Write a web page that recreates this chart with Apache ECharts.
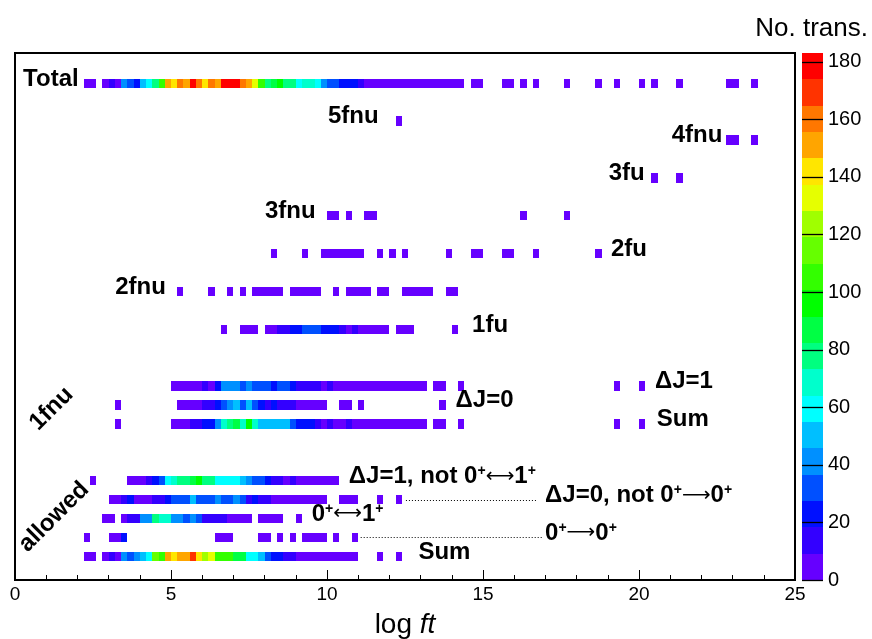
<!DOCTYPE html>
<html><head><meta charset="utf-8">
<script src="https://cdn.jsdelivr.net/npm/echarts/dist/echarts.min.js"></script>
<style>html,body{margin:0;padding:0;background:#fff}#c{width:872px;height:639px}</style>
</head><body><div id="c"></div>
<script>
// ---------------- DATA ----------------
const zMax = 183;            // top of colour scale
const binWidth = 0.2;        // log ft bin width
const palette = ['#6600ff','#3300ff','#0010ff','#0050ff','#0090ff','#00bfff','#00ffff','#00ffcc','#00ff80','#00ff44',
                 '#00ff00','#33ff00','#66ff00','#a0ff00','#e6ff00','#ffe600','#ffa500','#ff7700','#ff3300','#ff0000'];
const xTickValues = [0, 5, 10, 15, 20, 25];
const zTickValues = [0, 20, 40, 60, 80, 100, 120, 140, 160, 180];

// y-bin of every row (bottom to top)
const rowKeys = ['allowedSum','allowed00','allowed01','allowedDJ0','allowedDJ1','fnu1Sum','fnu1DJ0','fnu1DJ1','fu1','fnu2','fu2','fnu3','fu3','fnu4','fnu5','total'];
const rowBins = [2, 4, 6, 8, 10, 16, 18, 20, 26, 30, 34, 38, 42, 46, 48, 52];

// counts per row: segments [first log ft bin, [counts...]] (0 = empty bin)
const total = [
  [2.2, [4,4,0,4,14,4,41,32,23,50,59,78,105,151,142,160,151,178,160,142,160,151,178,178,178,160,151,133,105,78,87,96,78,78,59,69,69,59,41,32,32,23,23,23,14,
         4,4,4,4,4,4,4,4,4,4,4,4,4,4,4,4,0,4,4,0,0,0,4,4,0,4,0,4]],
  [17.6,[4]],[18.6,[4]],[19.2,[4]],[20.0,[4]],[20.4,[4]],[21.2,[4]],[22.8,[4,4]],[23.6,[4]]
];
const fnu5 = [[12.2,[4]]];
const fnu4 = [[22.8,[4,4]],[23.6,[4]]];
const fu3  = [[20.4,[4]],[21.2,[4]]];
const fnu3 = [[10.0,[4,4,0,4,0,0,4,4]],[16.2,[4]],[17.6,[4]]];
const fu2  = [[8.2,[4]],[9.2,[4]],[9.8,[4,4,4,4,4,4,4]],[11.6,[4,0,4,0,4]],[13.8,[4]],[14.6,[4,4]],[15.6,[4,4]],[16.6,[4]],[18.6,[4]]];
const fnu2 = [[5.2,[4]],[6.2,[4]],[6.8,[4,0,4]],[7.6,[4,4,4,4,4,0,4,4,4,4,4]],[10.2,[4,0,4,4,4,4,0,4,4]],[12.4,[4,4,4,4,4]],[13.8,[4,4]]];
const fu1  = [[6.6,[4]],[7.2,[4,4,4,0,4,4,14,14,23,23,32,32,32,23,23,23,14,4,14,4,4,4,4,4,0,4,4,4]],[14.0,[4]]];
const fnu1DJ1 = [[5.0,[4,4,4,4,4,14,4,23,41,41,41,32,41,32,32,32,23,32,32,23,14,14,14,14,4,14,
                       4,4,4,4,4,4,4,4,4,4,4,4,4,4,4,0,4,4]],[14.2,[4]],[19.2,[4]],[20.0,[4]]];
const fnu1DJ0 = [[3.2,[4]],[5.2,[4,4,4,4,14,14,23,32,41,50,32,50,32,23,14,23,14,14,14,4,4,4,4,4]],[10.4,[4,4,0,4]],[13.6,[4]]];
const fnu1Sum = [[3.2,[4]],[5.0,[4,4,4,14,14,23,23,41,69,78,87,69,96,69,50,50,50,50,50,32,23,23,23,14,4,14,4,4,14,
                       4,4,4,4,4,4,4,4,4,4,4,4,0,4,4]],[14.2,[4]],[19.2,[4]],[20.0,[4]]];
const allowedDJ1 = [[2.4,[4]],[3.6,[4,4,4,14,23,32,59,69,78,78,87,96,78,78,59,59,59,59,50,41,32,32,23,14,14,4,14,4,4,4,4,4,4,4]]];
const allowedDJ0 = [[3.0,[4,4,14,23,4,4,4,14,14,23,32,32,32,50,32,32,32,41,32,32,41,32,14,23,14,14,4,4,4,4,4,4,4,4,4]],[10.4,[4,4,4]],[11.6,[4]],[12.2,[4]]];
const allowed01 = [[2.8,[4,4,0,4,14,14,41,41,78,69,69,41,41,32,41,32,14,14,14,14,4,4,4,4,0,4,4,4,4]],[9.0,[4]]];
const allowed00 = [[2.2,[4]],[3.0,[4,4,23]],[6.4,[4,4,4]],[7.8,[4,4,0,4,0,4,0,4,4,4,4,0,4,0,0,4]]];
const allowedSum = [[2.2,[4,4,0,4,14,4,41,32,41,50,59,114,105,151,142,151,151,169,142,124,133,105,105,105,87,87,59,59,50,32,23,23,14,14,
                         4,4,4,4,4,4,4,4,4,4]],[11.6,[4]],[12.2,[4]]];

// annotations
const labelTexts = ['Total','5fnu','4fnu','3fu','3fnu','2fu','2fnu','1fu','ΔJ=1','ΔJ=0','Sum',
  '{b|ΔJ=1, not 0}{s|+}{a|⟷}{b|1}{s|+}','{b|ΔJ=0, not 0}{s|+}{a|⟶}{b|0}{s|+}','{b|0}{s|+}{a|⟷}{b|1}{s|+}','{b|0}{s|+}{a|⟶}{b|0}{s|+}','Sum'];
const labelLogft = [0.26,10.03,21.05,19.03,8.01,19.1,3.21,14.65,20.51,14.12,20.57,10.7,16.99,9.51,16.99,12.93];
const labelRow   = ['total','fnu5','fnu4','fu3','fnu3','fu2','fnu2','fu1','fnu1DJ1','fnu1DJ0','fnu1Sum','allowedDJ1','allowedDJ0','allowed01','allowed00','allowedSum'];
const groupTexts = ['1fnu','allowed'];
const groupLogft = [1.17, 1.25];
const groupBin = [18.1, 6.66];
const leaderRows = ['allowedDJ0','allowed00'];
const leaderFrom = [12.53, 11.08];
const leaderTo = [16.72, 16.89];

// ---------------- BUILD ----------------
const rowData = {total, fnu5, fnu4, fu3, fnu3, fu2, fnu2, fu1, fnu1DJ1, fnu1DJ0, fnu1Sum, allowedDJ1, allowedDJ0, allowed01, allowed00, allowedSum};
const cells = [];
rowKeys.forEach((k, r) => {
  rowData[k].forEach(([start, counts]) => {
    counts.forEach((c, i) => {
      if (c > 0) cells.push([Math.round((start + i * binWidth) * 10) / 10, rowBins[r], c]);
    });
  });
});
const step = zMax / palette.length;
const pieces = palette.map((c, k) => ({gte: k * step, lt: (k + 1) * step, color: c}));
pieces[pieces.length - 1].lte = zMax * 2; delete pieces[pieces.length - 1].lt;
const barData = palette.map((c, k) => [k * step, (k + 1) * step, k]);

const FONT = 'Liberation Sans, Arial, Helvetica, sans-serif';
const chart = echarts.init(document.getElementById('c'), null, {renderer: 'canvas'});

chart.setOption({
  animation: false,
  backgroundColor: '#fff',
  grid: [
    {left: 15, top: 53, width: 780, height: 527, show: true, borderColor: '#000', borderWidth: 2, backgroundColor: 'transparent',
     containLabel: false, outerBoundsMode: 'none'},
    {left: 802, top: 53, width: 21, height: 527, containLabel: false, outerBoundsMode: 'none'}
  ],
  xAxis: [
    {gridIndex: 0, type: 'value', min: 0, max: 25, interval: 5,
     axisLine: {lineStyle: {color: '#000', width: 2}},
     axisTick: {inside: true, length: 10, lineStyle: {color: '#000', width: 1}},
     minorTick: {show: true, splitNumber: 5, length: 5, lineStyle: {color: '#000', width: 1}},
     splitLine: {show: false},
     axisLabel: {fontSize: 19, color: '#000', fontFamily: FONT, margin: 5, showMinLabel: true, showMaxLabel: true},
     name: '{n|log }{i|ft}', nameLocation: 'middle', nameGap: 31,
     nameTextStyle: {rich: {n: {fontSize: 28, fontFamily: FONT, color: '#000'}, i: {fontSize: 28, fontFamily: FONT, fontStyle: 'italic', color: '#000'}}}},
    {gridIndex: 1, type: 'value', min: 0, max: 1, show: false}
  ],
  yAxis: [
    {gridIndex: 0, type: 'value', min: 0, max: 55.7, show: false},
    {gridIndex: 1, type: 'value', position: 'right', min: 0, max: zMax,
     axisLine: {show: false},
     axisTick: {show: false},
     axisLabel: {fontSize: 20, color: '#000', fontFamily: FONT, margin: 5, customValues: zTickValues},
     splitLine: {show: false}}
  ],
  visualMap: {type: 'piecewise', show: false, seriesIndex: 0, dimension: 2, pieces: pieces},
  series: [
    {type: 'custom', xAxisIndex: 0, yAxisIndex: 0, data: cells, encode: {x: 0, y: 1},
     renderItem: function (params, api) {
       const x = api.value(0), y = api.value(1);
       const a = api.coord([x, y + 1]), b = api.coord([x + binWidth, y]);
       const x0 = Math.round(a[0]), y0 = Math.round(a[1]), x1 = Math.round(b[0]), y1 = Math.round(b[1]);
       return {type: 'rect', shape: {x: x0, y: y0, width: x1 - x0, height: y1 - y0}, style: {fill: api.visual('color')}};
     }},
    {type: 'custom', xAxisIndex: 1, yAxisIndex: 1, data: barData, z: 2,
     renderItem: function (params, api) {
       const a = api.coord([0, api.value(1)]), b = api.coord([1, api.value(0)]);
       return {type: 'rect', shape: {x: a[0], y: Math.round(a[1]), width: b[0] - a[0], height: Math.round(b[1]) - Math.round(a[1])},
               style: {fill: palette[api.value(2)]}};
     }},
    {type: 'custom', xAxisIndex: 1, yAxisIndex: 1, data: zTickValues.map(v => [v]), z: 3,
     renderItem: function (params, api) {
       const a = api.coord([0, api.value(0)]), b = api.coord([1, api.value(0)]);
       const y = Math.round(a[1]) + 0.5;
       return {type: 'line', shape: {x1: a[0], y1: y, x2: b[0], y2: y}, style: {stroke: '#000', lineWidth: 1.3}};
     }}
  ]
});

// annotations anchored to data coordinates
const px = (v, b) => chart.convertToPixel({gridIndex: 0}, [v, b]);
const richStyles = {
  b: {fontSize: 24, fontWeight: 'bold', fontFamily: FONT, fill: '#000'},
  s: {fontSize: 14, fontWeight: 'bold', fontFamily: FONT, fill: '#000', verticalAlign: 'top'},
  a: {fontSize: 20, fontFamily: 'DejaVu Sans', fill: '#000'}
};
const graphics = [];
labelTexts.forEach((t, i) => {
  const p = px(labelLogft[i], rowBins[rowKeys.indexOf(labelRow[i])] + 0.95);
  graphics.push({type: 'text', x: p[0], y: p[1], z: 20,
    style: {text: t, font: 'bold 24px ' + FONT, fill: '#000', align: 'left', verticalAlign: 'middle', rich: richStyles}});
});
groupTexts.forEach((t, i) => {
  const p = px(groupLogft[i], groupBin[i]);
  graphics.push({type: 'text', x: p[0], y: p[1], rotation: Math.PI / 4, z: 20,
    style: {text: t, font: 'bold 24px ' + FONT, fill: '#000', align: 'center', verticalAlign: 'middle'}});
});
leaderRows.forEach((k, i) => {
  const yb = rowBins[rowKeys.indexOf(k)] + 0.5;
  const a = px(leaderFrom[i], yb), b = px(leaderTo[i], yb);
  graphics.push({type: 'line', z: 20, shape: {x1: a[0], y1: Math.round(a[1]) + 0.5, x2: b[0], y2: Math.round(b[1]) + 0.5},
    style: {stroke: '#000', lineWidth: 1, lineDash: [1, 2]}});
});
graphics.push({type: 'text', x: 868, y: 29, z: 20,
  style: {text: 'No. trans.', font: '26px ' + FONT, fill: '#000', align: 'right', verticalAlign: 'middle'}});
chart.setOption({graphic: graphics});
</script></body></html>
